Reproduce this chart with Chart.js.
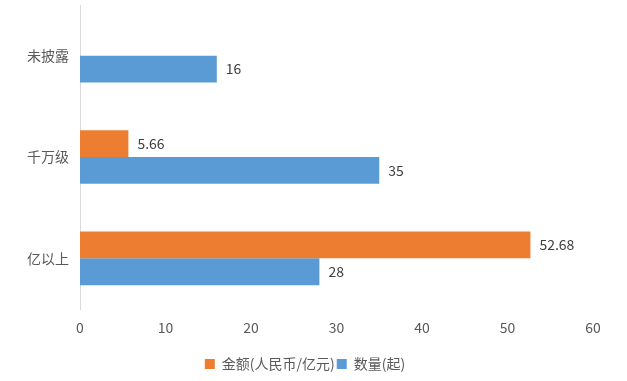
<!DOCTYPE html>
<html>
<head>
<meta charset="utf-8">
<script src="https://cdn.jsdelivr.net/npm/chart.js@4"></script>
<style>
html,body{margin:0;padding:0;background:#fff;}
#wrap{width:627px;height:381px;position:relative;}
</style>
</head>
<body>
<div id="wrap"><canvas id="c" width="627" height="381"></canvas></div>
<script>
const categories = ['未披露', '千万级', '亿以上'];
const amountLabel = '金额(人民币/亿元)';
const countLabel = '数量(起)';
const amountValues = [null, 5.66, 52.68];
const countValues = [16, 35, 28];
const xTicks = [0, 10, 20, 30, 40, 50, 60];

const FONT = '"Noto Sans CJK SC", "Microsoft YaHei", sans-serif';

const valueLabels = {
  id: 'valueLabels',
  afterDatasetsDraw(chart) {
    const ctx = chart.ctx;
    ctx.save();
    ctx.font = '14px ' + FONT;
    ctx.fillStyle = '#404040';
    ctx.textBaseline = 'middle';
    ctx.textAlign = 'left';
    chart.data.datasets.forEach((ds, i) => {
      const meta = chart.getDatasetMeta(i);
      meta.data.forEach((el, j) => {
        const v = ds.data[j];
        if (v === null || v === undefined) return;
        ctx.fillText(String(v), el.x + 9, el.y);
      });
    });
    ctx.restore();
  }
};

new Chart(document.getElementById('c'), {
  type: 'bar',
  data: {
    labels: categories,
    datasets: [
      { label: amountLabel, data: amountValues, backgroundColor: '#ED7D31', barPercentage: 1, categoryPercentage: 0.53 },
      { label: countLabel, data: countValues, backgroundColor: '#5B9BD5', barPercentage: 1, categoryPercentage: 0.53 }
    ]
  },
  options: {
    indexAxis: 'y',
    responsive: false,
    animation: false,
    layout: { padding: { top: 5, right: 17, left: 0, bottom: 0 } },
    plugins: {
      legend: {
        position: 'bottom',
        labels: { boxWidth: 10, boxHeight: 10, padding: 2, color: '#595959', font: { family: FONT, size: 14 } }
      },
      tooltip: { enabled: false }
    },
    scales: {
      x: {
        min: 0, max: 60,
        afterBuildTicks(s) { s.ticks = xTicks.map(v => ({ value: v })); },
        afterFit(s) { s.height = 46; s.paddingRight = 34; },
        grid: { display: false, drawTicks: false },
        border: { display: false },
        ticks: { color: '#595959', padding: 10, font: { family: FONT, size: 14 } }
      },
      y: {
        grid: { display: false, drawTicks: false },
        border: { display: true, color: '#D9D9D9', width: 1 },
        afterFit(s) { s.width = 80; s.paddingTop = 0; s.paddingBottom = 0; },
        ticks: { color: '#595959', padding: 11, font: { family: FONT, size: 14 } }
      }
    }
  },
  plugins: [valueLabels]
});
</script>
</body>
</html>
